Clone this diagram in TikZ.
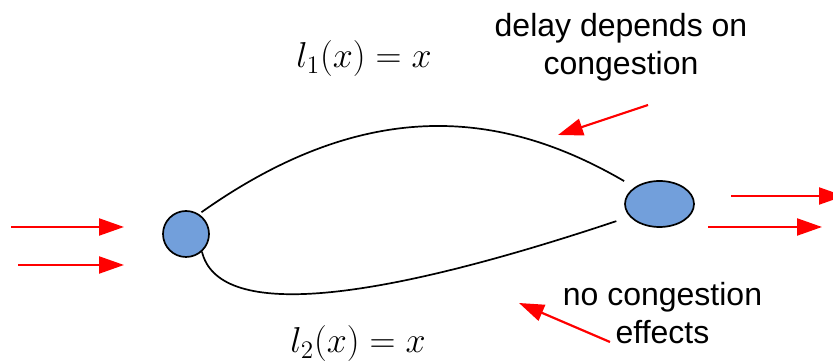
\documentclass[tikz,border=0pt]{standalone}
\usepackage{fix-cm}
\usepackage{fontspec}
\setmainfont{Liberation Sans}
\usetikzlibrary{positioning, arrows.meta, shapes.geometric}
\definecolor{netBlue}{HTML}{729FDB}
\definecolor{netRed}{HTML}{FF0000}

\begin{document}
\begin{tikzpicture}[x=0.5pt, y=0.5pt,
    vertex/.style={draw=black, line width=0.85pt, fill=netBlue, inner sep=0pt},
    link/.style={draw=black, line width=0.85pt},
    flow/.style={draw=netRed, line width=1.1pt, -{Triangle[length=12.5pt, width=8.5pt]}},
    note/.style={align=center, font=\fontsize{16}{19}\selectfont},
    cost/.style={anchor=base, font=\fontsize{18}{22}\selectfont}]
  \clip (0,0) rectangle (833,362);
  % the two nodes of the network
  \node[vertex, circle, minimum size=23pt] (src) at (186,128) {};
  \node[vertex, ellipse, minimum width=34.5pt, minimum height=23pt] (dst) at (659.5,158) {};
  % two parallel links
  \draw[link, shorten <=1.5pt, shorten >=6pt]
    (src.57) .. controls (370.5,269.5) and (506.4,249.5) .. (dst.146);
  \draw[link, shorten >=7pt]
    (src.-48) .. controls (218,44) and (362,56) .. (dst.203);
  % latency of each link
  \node[cost] (costup) at (364,294) {$l_1(x) = x$};
  \node[cost] (costdown) at (358,9) {$l_2(x) = x$};
  % traffic in and out
  \foreach \name/\xa/\xb/\yy in {in1/11/124/135, in2/18/124/97, out1/731/844/166, out2/708/822/135} {
    \coordinate (\name a) at (\xa,\yy);
    \coordinate (\name b) at (\xb,\yy);
    \draw[flow] (\name a) -- (\name b);
  }
  % remarks
  \node[note] (delaynote) at (621,314.3) {delay depends on\\congestion};
  \node[note] (flatnote) at (662.5,49.3) {no congestion\\effects};
  \coordinate (delaytail) at (648,257);
  \coordinate (delaytip) at (558,227);
  \draw[flow] (delaytail) -- (delaytip);
  \coordinate (flattail) at (610,20);
  \coordinate (flattip) at (519,59);
  \draw[flow] (flattail) -- (flattip);
\end{tikzpicture}
\end{document}
